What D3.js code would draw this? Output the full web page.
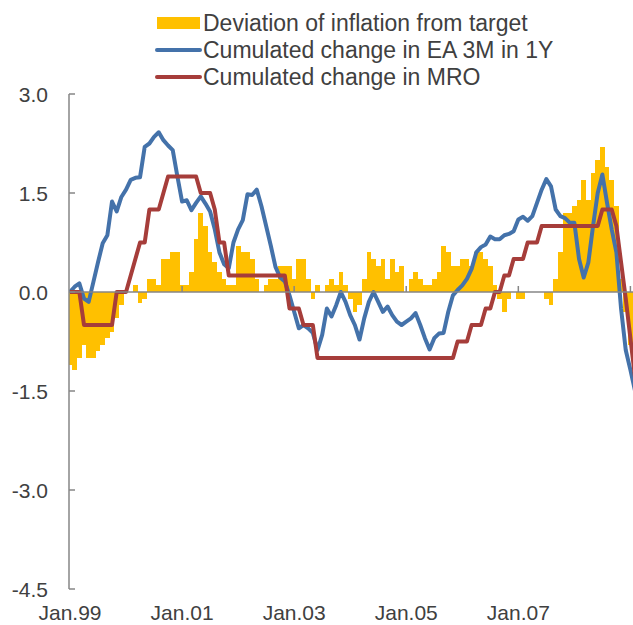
<!DOCTYPE html>
<html>
<head>
<meta charset="utf-8">
<script src="https://cdn.jsdelivr.net/npm/d3@7"></script>
<style>
  html, body { margin: 0; padding: 0; background: #ffffff; }
  svg { display: block; font-family: "Liberation Sans", Arial, sans-serif; }
</style>
</head>
<body>
<svg id="chart" width="633" height="625"></svg>
<script>
// ---- Data (monthly, Jan 1999 = month 0) ----
const inflationDeviation = [
  -1.1, -1.18, -1.0, -0.8, -1.0, -1.0, -0.9, -0.8, -0.7, -0.6, -0.4, -0.2,
  0.0, 0.0, 0.1, -0.17, -0.1, 0.2, 0.2, 0.1, 0.5, 0.5, 0.6, 0.6,
  0.1, 0.1, 0.3, 0.8, 1.2, 1.0, 0.6, 0.45, 0.3, 0.2, 0.1, 0.1,
  0.7, 0.6, 0.6, 0.5, 0.2, 0.0, 0.1, 0.2, 0.2, 0.4, 0.4, 0.4,
  0.2, 0.5, 0.5, 0.2, -0.1, 0.1, 0.0, 0.1, 0.2, 0.1, 0.3, 0.1,
  -0.1, -0.3, -0.2, 0.2, 0.6, 0.5, 0.4, 0.5, 0.2, 0.5, 0.3, 0.4,
  0.0, 0.2, 0.3, 0.2, 0.1, 0.1, 0.2, 0.3, 0.7, 0.6, 0.4, 0.4,
  0.5, 0.5, 0.4, 0.6, 0.6, 0.5, 0.4, 0.1, -0.1, -0.3, -0.1, 0.0,
  -0.1, -0.1, 0.0, 0.0, 0.0, 0.0, -0.1, -0.2, 0.2, 0.6, 1.2, 1.2,
  1.3, 1.4, 1.7, 1.4, 1.8, 2.0, 2.2, 1.9, 1.7, 1.3, 0.2, -0.3,
  -0.8
];
const ea3mChange = [
  0.0, 0.08, 0.13, -0.1, -0.15, 0.15, 0.45, 0.74, 0.86, 1.37, 1.22, 1.44,
  1.55, 1.7, 1.73, 1.74, 2.2, 2.25, 2.35, 2.42, 2.3, 2.22, 2.15, 1.75,
  1.37, 1.39, 1.24, 1.35, 1.45, 1.34, 1.22, 0.95, 0.6, 0.42, 0.36, 0.75,
  0.95, 1.09, 1.48, 1.47, 1.55, 1.3, 1.0, 0.7, 0.38, 0.22, 0.16, -0.05,
  -0.3, -0.55, -0.5, -0.55, -0.62, -0.88, -0.65, -0.25, -0.37, -0.2, 0.0, -0.15,
  -0.35, -0.5, -0.72, -0.4, -0.15, 0.0, -0.15, -0.3, -0.22, -0.35, -0.45, -0.5,
  -0.45, -0.4, -0.32, -0.5, -0.7, -0.87, -0.7, -0.63, -0.62, -0.3, -0.05, 0.03,
  0.1, 0.2, 0.35, 0.6, 0.68, 0.72, 0.84, 0.8, 0.8, 0.86, 0.88, 0.92,
  1.1, 1.14, 1.08, 1.15, 1.35, 1.55, 1.71, 1.6, 1.25, 1.15, 1.12, 1.05,
  1.05, 0.5, 0.22, 0.45, 1.0, 1.5, 1.78, 1.35, 0.95, 0.6, -0.25, -0.88,
  -1.18, -1.5
];
const mroChange = [
  0, 0, 0, -0.5, -0.5, -0.5, -0.5, -0.5, -0.5, -0.5, 0, 0,
  0, 0.25, 0.5, 0.75, 0.75, 1.25, 1.25, 1.25, 1.5, 1.75, 1.75, 1.75,
  1.75, 1.75, 1.75, 1.75, 1.5, 1.5, 1.5, 1.25, 0.75, 0.75, 0.25, 0.25,
  0.25, 0.25, 0.25, 0.25, 0.25, 0.25, 0.25, 0.25, 0.25, 0.25, 0.25, -0.25,
  -0.25, -0.25, -0.5, -0.5, -0.5, -1, -1, -1, -1, -1, -1, -1,
  -1, -1, -1, -1, -1, -1, -1, -1, -1, -1, -1, -1,
  -1, -1, -1, -1, -1, -1, -1, -1, -1, -1, -1, -0.75,
  -0.75, -0.75, -0.5, -0.5, -0.5, -0.25, -0.25, 0, 0, 0.25, 0.25, 0.5,
  0.5, 0.5, 0.75, 0.75, 0.75, 1, 1, 1, 1, 1, 1, 1,
  1, 1, 1, 1, 1, 1, 1.25, 1.25, 1.25, 1.0, 0.45, -0.1,
  -0.7, -1.3
];
const yTicks = [3.0, 1.5, 0.0, -1.5, -3.0, -4.5];
const xTickMonths = [0, 24, 48, 72, 96, 120];
const xTickLabels = ["Jan.99", "Jan.01", "Jan.03", "Jan.05", "Jan.07", ""];
const legendLabels = ["Deviation of inflation from target", "Cumulated change in EA 3M in 1Y", "Cumulated change in MRO"];
const colors = { bar: "#FFC000", blue: "#4472AA", red: "#A63D3A", axis: "#868686", text: "#404040" };

// ---- Layout ----
const svg = d3.select("#chart");
const plotLeft = 69, plotRight = 633;
const x = d3.scaleLinear().domain([0, 120]).range([70, 630.4]);
const y = d3.scaleLinear().domain([-4.5, 3]).range([589, 94]);
const step = x(1) - x(0);

svg.append("defs").append("clipPath").attr("id", "plotClip")
  .append("rect").attr("x", plotLeft).attr("y", 0).attr("width", plotRight - plotLeft).attr("height", 625);

const plot = svg.append("g").attr("clip-path", "url(#plotClip)");

// Bars
plot.append("g").selectAll("rect").data(inflationDeviation).join("rect")
  .attr("x", (d, i) => x(i) - step / 2)
  .attr("width", step + 0.05)
  .attr("y", d => y(Math.max(0, d)))
  .attr("height", d => Math.abs(y(d) - y(0)))
  .attr("fill", colors.bar)
  .attr("shape-rendering", "crispEdges");

// Axes
const axisG = svg.append("g");
axisG.append("line").attr("x1", plotLeft).attr("x2", plotLeft)
  .attr("y1", y(3)).attr("y2", y(-4.5))
  .attr("stroke", colors.axis).attr("stroke-width", 1.5);
axisG.selectAll("line.ytick").data(yTicks).join("line").attr("class", "ytick")
  .attr("x1", plotLeft).attr("x2", plotLeft + 6)
  .attr("y1", d => y(d)).attr("y2", d => y(d))
  .attr("stroke", colors.axis).attr("stroke-width", 1.5);
axisG.append("line").attr("x1", plotLeft).attr("x2", plotRight)
  .attr("y1", y(0)).attr("y2", y(0))
  .attr("stroke", colors.axis).attr("stroke-width", 1.5);
axisG.selectAll("line.xtick").data(xTickMonths.slice(1)).join("line").attr("class", "xtick")
  .attr("x1", d => x(d)).attr("x2", d => x(d))
  .attr("y1", y(0)).attr("y2", y(0) - 6)
  .attr("stroke", colors.axis).attr("stroke-width", 1.5);

// Y labels
svg.append("g").selectAll("text").data(yTicks).join("text")
  .attr("x", 48).attr("y", d => y(d) + 7.5)
  .attr("text-anchor", "end")
  .attr("font-size", 21).attr("fill", colors.text)
  .text(d => d.toFixed(1));

// X labels
svg.append("g").selectAll("text").data(xTickMonths).join("text")
  .attr("x", d => x(d)).attr("y", 620)
  .attr("text-anchor", "middle")
  .attr("font-size", 21).attr("fill", colors.text)
  .text((d, i) => xTickLabels[i]);

// Lines
const line = d3.line().x((d, i) => x(i)).y(d => y(d));
plot.append("path").datum(ea3mChange).attr("d", line)
  .attr("fill", "none").attr("stroke", colors.blue).attr("stroke-width", 4)
  .attr("stroke-linejoin", "round");
plot.append("path").datum(mroChange).attr("d", line)
  .attr("fill", "none").attr("stroke", colors.red).attr("stroke-width", 4)
  .attr("stroke-linejoin", "round");

// Legend
const legend = svg.append("g");
const rowY = [23, 50, 77];
legend.append("rect").attr("x", 157).attr("y", rowY[0] - 6).attr("width", 43).attr("height", 12).attr("fill", colors.bar);
legend.append("line").attr("x1", 157).attr("x2", 200).attr("y1", rowY[1]).attr("y2", rowY[1])
  .attr("stroke", colors.blue).attr("stroke-width", 4).attr("stroke-linecap", "round");
legend.append("line").attr("x1", 157).attr("x2", 200).attr("y1", rowY[2]).attr("y2", rowY[2])
  .attr("stroke", colors.red).attr("stroke-width", 4).attr("stroke-linecap", "round");
legend.selectAll("text").data(legendLabels).join("text")
  .attr("x", 203).attr("y", (d, i) => rowY[i] + 8)
  .attr("font-size", 23).attr("fill", colors.text)
  .text(d => d);
</script>
</body>
</html>
